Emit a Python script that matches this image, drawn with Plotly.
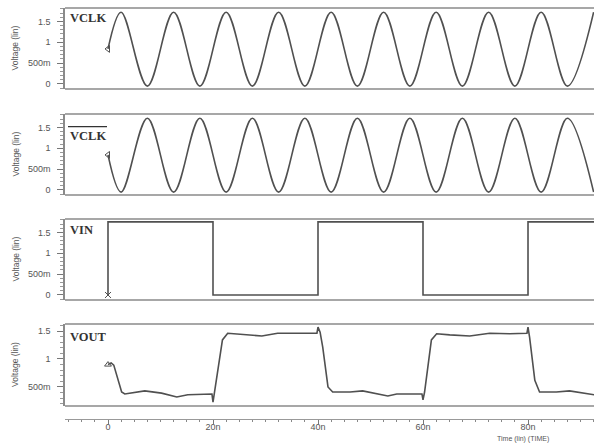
import plotly.graph_objects as go

# ---- data (ns, V) ----
clk_t = [0, 2.5, 7.5, 12.5, 17.5, 22.5, 27.5, 32.5, 37.5, 42.5, 47.5,
         52.5, 57.5, 62.5, 67.5, 72.5, 77.5, 82.5, 87.5, 92.5]
vclk = [0.84, 1.72, -0.05, 1.72, -0.05, 1.72, -0.05, 1.72, -0.05, 1.72, -0.05,
        1.72, -0.05, 1.72, -0.05, 1.72, -0.05, 1.72, -0.05, 1.72]
vclkb = [0.84, -0.05, 1.72, -0.05, 1.72, -0.05, 1.72, -0.05, 1.72, -0.05, 1.72,
         -0.05, 1.72, -0.05, 1.72, -0.05, 1.72, -0.05, 1.72, -0.05]

vin_t = [0, 0, 20, 40, 60, 80, 92.6]
vin = [0, 1.75, 0, 1.75, 0, 1.75, 1.75]

vout_t = [0, 0.6, 1.1, 2.6, 3.2, 7.0, 10.2, 13.1, 15.2, 19.8, 20.0, 20.3, 21.8, 22.8,
          26.0, 29.3, 32.3, 35.6, 39.8, 40.0, 40.4, 40.9, 41.9, 42.8, 46.1, 48.5,
          53.3, 55.0, 59.8, 60.0, 60.3, 61.6, 62.6, 65.1, 68.9, 72.7, 76.5, 79.8,
          80.0, 80.3, 81.3, 82.2, 85.4, 87.9, 91.2, 92.6]
vout = [0.90, 0.93, 0.89, 0.41, 0.375, 0.43, 0.39, 0.32, 0.36, 0.375, 0.23, 0.41, 1.34, 1.46,
        1.43, 1.41, 1.46, 1.46, 1.46, 1.57, 1.48, 1.21, 0.50, 0.41, 0.41, 0.43,
        0.34, 0.375, 0.375, 0.27, 0.41, 1.34, 1.45, 1.43, 1.41, 1.46, 1.45, 1.46,
        1.57, 1.39, 0.62, 0.41, 0.41, 0.43, 0.39, 0.36]

x_ticks = [0, 20, 40, 60, 80]
x_labels = ["0", "20n", "40n", "60n", "80n"]
y_ticks = [0, 0.5, 1, 1.5]
y_labels = ["0", "500m", "1", "1.5"]
panel_names = ["VCLK", "VCLK", "VIN", "VOUT"]

W, H = 596, 443
LINE = "#505050"
FRAME = "#8a8a8a"
TXT = "#555555"

# panel pixel extents (top, bottom)
panels = [(8, 89), (114, 195), (219, 300), (324, 406)]
yranges = [[-0.12, 1.82], [-0.12, 1.82], [-0.12, 1.82], [0.16, 1.625]]

fig = go.Figure()

series = [
    (clk_t, vclk, "spline", "triangle-left-open"),
    (clk_t, vclkb, "spline", "triangle-left-open"),
    (vin_t, vin, "hv", "x-thin"),
    (vout_t, vout, "linear", "triangle-up-open"),
]
for i, (tx, vy, shape, sym) in enumerate(series):
    yref = "y" if i == 0 else f"y{i+1}"
    fig.add_trace(go.Scatter(x=tx, y=vy, mode="lines", yaxis=yref, xaxis="x",
                             line=dict(color=LINE, width=1.6, shape=shape),
                             showlegend=False, hoverinfo="skip"))
    fig.add_trace(go.Scatter(x=[tx[0]], y=[vy[0]], mode="markers", yaxis=yref, xaxis="x",
                             marker=dict(symbol=sym, size=6, color=LINE,
                                         line=dict(color=LINE, width=1)),
                             showlegend=False, hoverinfo="skip"))

layout = dict(
    width=W, height=H,
    margin=dict(l=65, r=2, t=0, b=0),
    paper_bgcolor="white", plot_bgcolor="white",
    font=dict(family="Liberation Sans, Arial, sans-serif", size=9, color=TXT),
    xaxis=dict(range=[-8.19, 92.57], anchor="free", position=1 - 419 / H,
               showline=True, linecolor="#999999", linewidth=1.2,
               tickmode="array", tickvals=x_ticks, ticktext=x_labels,
               ticks="outside", ticklen=4, tickcolor="#777777", tickwidth=1.2,
               ticklabelstandoff=-5,
               minor=dict(dtick=2.5, tick0=0, ticks="outside", ticklen=2,
                          tickcolor="#888888"),
               showgrid=False, zeroline=False,
               tickfont=dict(size=9, color=TXT)),
)

shapes = []
annotations = []
for i, ((top, bot), yr) in enumerate(zip(panels, yranges)):
    key = "yaxis" if i == 0 else f"yaxis{i+1}"
    yref = "y" if i == 0 else f"y{i+1}"
    tv = [v for v in y_ticks if yr[0] <= v <= yr[1]]
    tl = [y_labels[y_ticks.index(v)] for v in tv]
    layout[key] = dict(
        domain=[1 - bot / H, 1 - top / H], range=yr, anchor="x",
        showline=True, linecolor=FRAME, linewidth=1.6,
        tickmode="array", tickvals=tv, ticktext=tl,
        ticks="outside", ticklen=6, tickcolor="#777777", tickwidth=1.2,
        ticklabelstandoff=5,
        minor=dict(dtick=0.1, tick0=0, ticks="outside", ticklen=3, tickcolor="#999999"),
        showgrid=False, zeroline=False, tickfont=dict(size=9, color=TXT),
    )
    for yy in (0, 1):
        shapes.append(dict(type="line", xref="paper", x0=0, x1=1,
                           yref=f"{yref} domain", y0=yy, y1=yy,
                           line=dict(color=FRAME, width=1.6)))
    # y-axis title
    annotations.append(dict(text="Voltage (lin)", xref="paper", x=(15 - 65) / 529,
                            yref=f"{yref} domain", y=0.5, textangle=-90,
                            showarrow=False, xanchor="center", yanchor="middle",
                            font=dict(size=8.5, color=TXT)))

label_y = [0.877, 0.728, 0.864, 0.84]
for i, name in enumerate(panel_names):
    yref = "y" if i == 0 else f"y{i+1}"
    annotations.append(dict(text=f"<b>{name}</b>", xref="paper", x=3 / 529,
                            yref=f"{yref} domain", y=label_y[i],
                            xanchor="left", yanchor="middle", showarrow=False,
                            font=dict(family="Liberation Serif, Times New Roman, serif",
                                      size=12.5, color="#333333")))

# overline for inverted clock label
shapes.append(dict(type="line", xref="paper", x0=3 / 529, x1=42 / 529,
                   yref="y2 domain", y0=0.845, y1=0.845,
                   line=dict(color="#333333", width=1.2)))

annotations.append(dict(text="Time (lin) (TIME)", xref="paper", x=(523 - 65) / 529,
                        yref="paper", y=1 - 439 / H, showarrow=False,
                        xanchor="center", yanchor="middle",
                        font=dict(size=7, color=TXT)))

layout["shapes"] = shapes
layout["annotations"] = annotations
fig.update_layout(**layout)
fig.write_html("out.html")
